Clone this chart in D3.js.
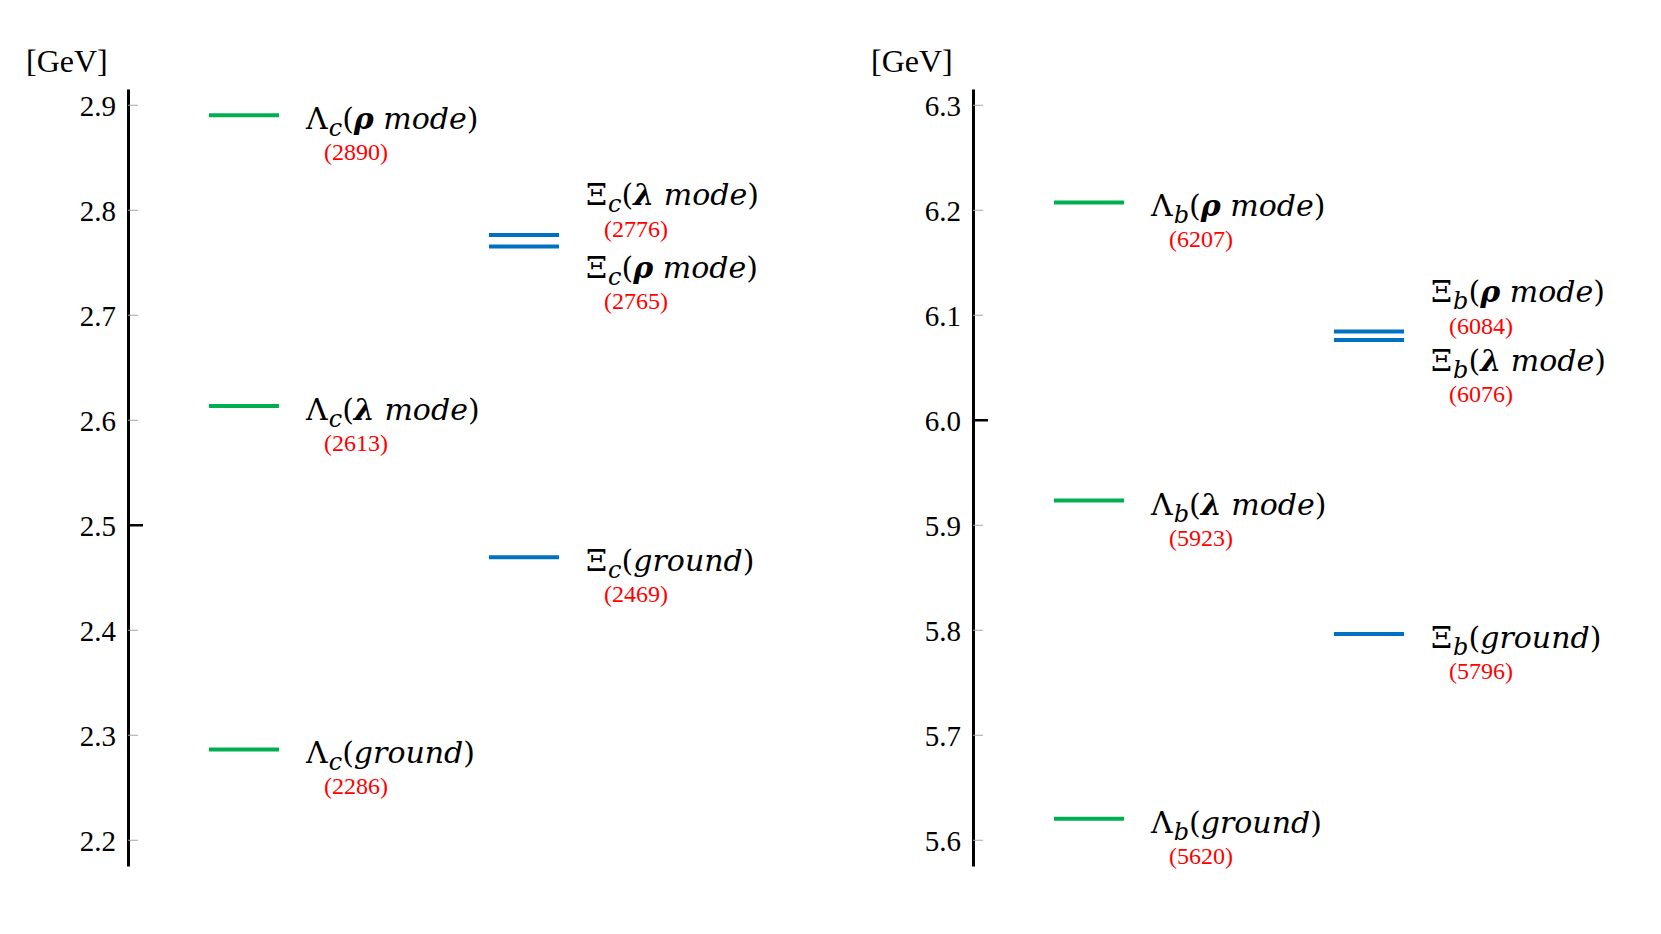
<!DOCTYPE html>
<html>
<head>
<meta charset="utf-8">
<script src="https://cdn.jsdelivr.net/npm/d3@7"></script>
<style>
  body { margin: 0; background: #fff; }
  svg { display: block; }
  text { font-family: "Liberation Serif", "Times New Roman", serif; }
</style>
</head>
<body>
<svg id="chart"></svg>
<script>
// charm sector
const charmBaryons = ["Λ", "Λ", "Λ", "Ξ", "Ξ", "Ξ"];
const charmModes = ["ground", "λ mode", "ρ mode", "ground", "ρ mode", "λ mode"];
const charmMasses = [2286, 2613, 2890, 2469, 2765, 2776];
const charmTicks = [2.2, 2.3, 2.4, 2.5, 2.6, 2.7, 2.8, 2.9];
const charmMajor = 2.5;

// bottom sector
const bottomBaryons = ["Λ", "Λ", "Λ", "Ξ", "Ξ", "Ξ"];
const bottomModes = ["ground", "λ mode", "ρ mode", "ground", "λ mode", "ρ mode"];
const bottomMasses = [5620, 5923, 6207, 5796, 6076, 6084];
const bottomTicks = [5.6, 5.7, 5.8, 5.9, 6.0, 6.1, 6.2, 6.3];
const bottomMajor = 6.0;

const width = 1661, height = 934;
const serif = '"Liberation Serif", "Times New Roman", serif';
const mathFont = '"DejaVu Serif", serif';
const svg = d3.select("#chart").attr("width", width).attr("height", height);

const color = d3.scaleOrdinal().domain(["Λ", "Ξ"]).range(["#00B050", "#0070C0"]);
const x = d3.scalePoint().domain(["Λ", "Ξ"]).range([81, 361]);
const levelWidth = 70;

function drawPanel(g, flavour, baryons, modes, masses, ticks, major) {
  // axis runs a bit past the first and last tick
  const y = d3.scaleLinear()
    .domain([ticks[0] - 0.025, ticks[ticks.length - 1] + 0.015])
    .range([866, 89]);

  const axis = d3.axisLeft(y)
    .tickValues(ticks)
    .tickSize(-10)
    .tickSizeOuter(0)
    .tickPadding(12)
    .tickFormat(d3.format(".1f"));

  const ax = g.append("g").call(axis);
  ax.attr("font-family", serif).attr("font-size", 29);
  ax.select(".domain").attr("stroke", "#000").attr("stroke-width", 3);
  ax.selectAll(".tick line").attr("stroke", "#a6a6a6").attr("stroke-width", 1);
  ax.selectAll(".tick text")
    .style("font-family", serif)
    .style("font-size", "29px")
    .attr("fill", "#000")
    .attr("dy", "0.38em");
  ax.selectAll(".tick")
    .filter((d) => Math.abs(d - major) < 1e-9)
    .select("line")
    .attr("stroke", "#000")
    .attr("stroke-width", 2.5)
    .attr("x2", 15);

  g.append("text")
    .attr("x", -102)
    .attr("y", 72)
    .style("font-size", "32px")
    .text("[GeV]");

  masses.forEach((m, i) => {
    const b = baryons[i];
    const mode = modes[i];
    const ly = y(m / 1000);

    g.append("line")
      .attr("x1", x(b))
      .attr("x2", x(b) + levelWidth)
      .attr("y1", ly)
      .attr("y2", ly)
      .attr("stroke", color(b))
      .attr("stroke-width", 4);

    // nearly degenerate pair -> one label above, one below
    const partner = masses.findIndex((m2, j) => j !== i && baryons[j] === b && Math.abs(m2 - m) < 20);
    let dyL = 14, dyR = 45;
    if (partner >= 0) {
      if (m > masses[partner]) { dyL = -30; dyR = 2; }
      else { dyL = 31; dyR = 62; }
    }

    const t = g.append("text")
      .attr("x", x(b) + 97)
      .attr("y", ly + dyL)
      .style("font-family", mathFont)
      .style("font-size", "30px");
    t.append("tspan").text(b);
    t.append("tspan").attr("font-style", "italic").style("font-size", "24px").attr("dx", 1).attr("dy", 7).text(flavour);
    t.append("tspan").attr("dy", -7).text("(");
    if (mode === "ground") {
      t.append("tspan").attr("font-style", "italic").text("ground");
    } else {
      const [greek, word] = mode.split(" ");
      t.append("tspan").attr("font-style", "italic").attr("font-weight", "bold").text(greek);
      t.append("tspan").attr("font-style", "italic").text(" " + word);
    }
    t.append("tspan").text(")");

    g.append("text")
      .attr("x", x(b) + 115)
      .attr("y", ly + dyR)
      .style("font-size", "24px")
      .attr("fill", "#FF0000")
      .text("(" + m + ")");
  });
}

drawPanel(svg.append("g").attr("transform", "translate(128,0)"),
  "c", charmBaryons, charmModes, charmMasses, charmTicks, charmMajor);
drawPanel(svg.append("g").attr("transform", "translate(973,0)"),
  "b", bottomBaryons, bottomModes, bottomMasses, bottomTicks, bottomMajor);
</script>
</body>
</html>
